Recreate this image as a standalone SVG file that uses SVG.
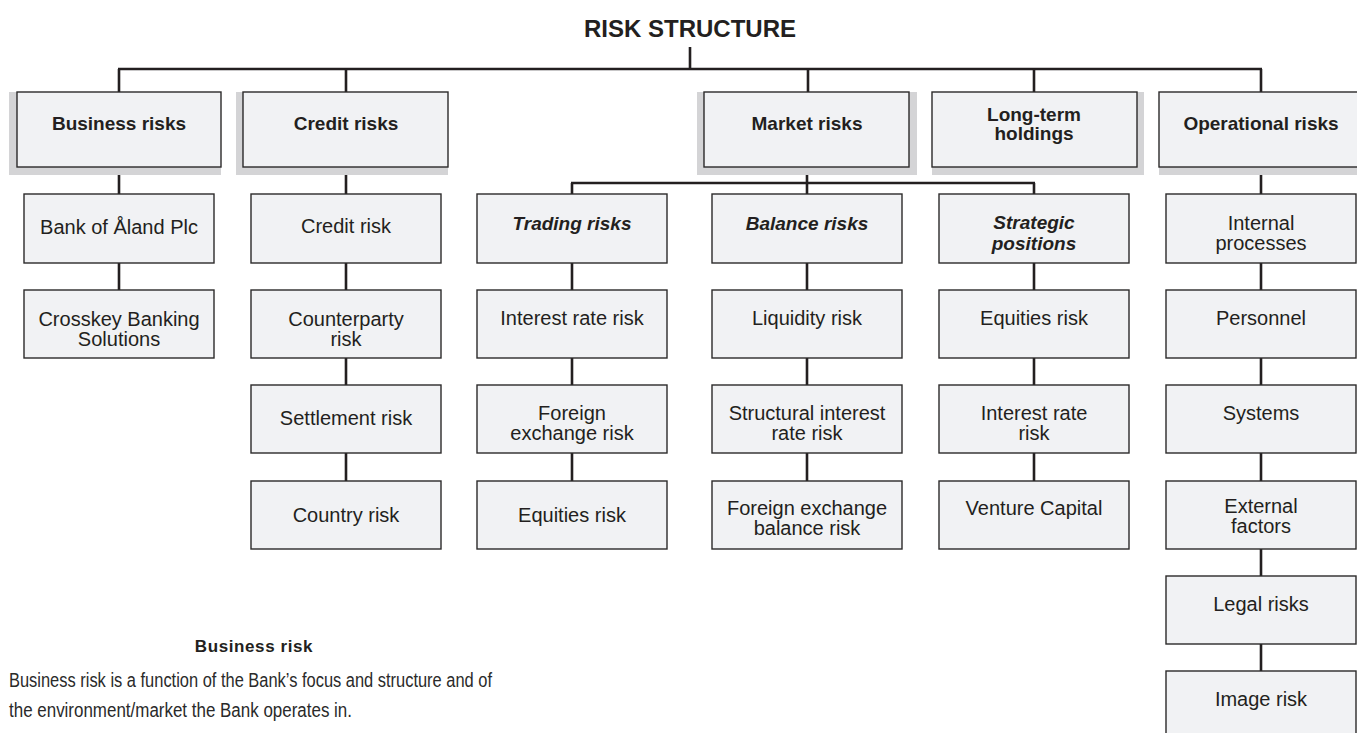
<svg xmlns="http://www.w3.org/2000/svg" width="1357" height="733" viewBox="0 0 1357 733">
  <style>
    .bg { fill: #ffffff; }
    .shadow { fill: #d4d4d6; }
    .box { fill: #f1f2f4; stroke: #2b2a2a; stroke-width: 1.4; }
    .wire { fill: none; stroke: #231f20; stroke-width: 2.6; stroke-linecap: butt; }
    text { font-family: "Liberation Sans", Arial, sans-serif; fill: #231f20; text-anchor: middle; }
    .title { font-size: 24px; font-weight: bold; }
    .head { font-size: 19px; font-weight: bold; }
    .sub { font-size: 19px; font-weight: bold; font-style: italic; }
    .lbl { font-size: 20px; }
    .note-h { font-size: 17px; font-weight: bold; letter-spacing: 0.6px; }
    .note { font-size: 20px; text-anchor: start; fill: #2a2a2a; }
  </style>

  <rect class="bg" x="0" y="0" width="1357" height="733"/>

  <text class="title" x="690" y="37">RISK STRUCTURE</text>

  <!-- connectors -->
  <g id="connectors">
    <path class="wire" d="M690 47 V69"/>
    <path class="wire" d="M118 69 H1262"/>
    <path class="wire" d="M119 69 V92 M346 69 V92 M808 69 V92 M1034 69 V92 M1261 69 V92"/>
    <!-- business column -->
    <path class="wire" d="M119 167 V194 M119 263 V290"/>
    <!-- credit column -->
    <path class="wire" d="M346 167 V194 M346 263 V290 M346 358 V385 M346 453 V481"/>
    <!-- market branch -->
    <path class="wire" d="M807 167 V183 M571 183 H1035 M572 183 V194 M807 183 V194 M1034 183 V194"/>
    <path class="wire" d="M572 263 V290 M572 358 V385 M572 453 V481"/>
    <path class="wire" d="M807 263 V290 M807 358 V385 M807 453 V481"/>
    <path class="wire" d="M1034 263 V290 M1034 358 V385 M1034 453 V481"/>
    <!-- operational column -->
    <path class="wire" d="M1261 167 V194 M1261 263 V290 M1261 358 V385 M1261 453 V481 M1261 549 V576 M1261 644 V671"/>
  </g>

  <!-- top level categories -->
  <g id="business-risks">
    <rect class="shadow" x="9" y="92" width="212" height="83"/>
    <rect class="box" x="17" y="92" width="204" height="75"/>
    <text class="head" x="119" y="130">Business risks</text>
  </g>
  <g id="credit-risks">
    <rect class="shadow" x="236" y="92" width="212" height="83"/>
    <rect class="box" x="243" y="92" width="205" height="75"/>
    <text class="head" x="346" y="130">Credit risks</text>
  </g>
  <g id="market-risks">
    <rect class="shadow" x="697" y="92" width="220" height="83"/>
    <rect class="box" x="704" y="92" width="205" height="75"/>
    <text class="head" x="807" y="130">Market risks</text>
  </g>
  <g id="long-term-holdings">
    <rect class="shadow" x="932" y="92" width="212" height="83"/>
    <rect class="box" x="932" y="92" width="205" height="75"/>
    <text class="head" x="1034" y="121">Long-term</text>
    <text class="head" x="1034" y="140">holdings</text>
  </g>
  <g id="operational-risks">
    <rect class="shadow" x="1159" y="92" width="210" height="83"/>
    <rect class="box" x="1159" y="92" width="205" height="75"/>
    <text class="head" x="1261" y="130">Operational risks</text>
  </g>

  <!-- business risk units -->
  <g id="bank-of-aland">
    <rect class="box" x="24" y="194" width="190" height="69"/>
    <text class="lbl" x="119" y="234">Bank of Åland Plc</text>
  </g>
  <g id="crosskey">
    <rect class="box" x="24" y="290" width="190" height="68"/>
    <text class="lbl" x="119" y="326">Crosskey Banking</text>
    <text class="lbl" x="119" y="346">Solutions</text>
  </g>

  <!-- credit risk types -->
  <g id="credit-risk">
    <rect class="box" x="251" y="194" width="190" height="69"/>
    <text class="lbl" x="346" y="233">Credit risk</text>
  </g>
  <g id="counterparty-risk">
    <rect class="box" x="251" y="290" width="190" height="68"/>
    <text class="lbl" x="346" y="326">Counterparty</text>
    <text class="lbl" x="346" y="346">risk</text>
  </g>
  <g id="settlement-risk">
    <rect class="box" x="251" y="385" width="190" height="68"/>
    <text class="lbl" x="346" y="425">Settlement risk</text>
  </g>
  <g id="country-risk">
    <rect class="box" x="251" y="481" width="190" height="68"/>
    <text class="lbl" x="346" y="522">Country risk</text>
  </g>

  <!-- trading risks -->
  <g id="trading-risks">
    <rect class="box" x="477" y="194" width="190" height="69"/>
    <text class="sub" x="572" y="230">Trading risks</text>
  </g>
  <g id="trading-interest-rate-risk">
    <rect class="box" x="477" y="290" width="190" height="68"/>
    <text class="lbl" x="572" y="325">Interest rate risk</text>
  </g>
  <g id="trading-fx-risk">
    <rect class="box" x="477" y="385" width="190" height="68"/>
    <text class="lbl" x="572" y="420">Foreign</text>
    <text class="lbl" x="572" y="440">exchange risk</text>
  </g>
  <g id="trading-equities-risk">
    <rect class="box" x="477" y="481" width="190" height="68"/>
    <text class="lbl" x="572" y="522">Equities risk</text>
  </g>

  <!-- balance risks -->
  <g id="balance-risks">
    <rect class="box" x="712" y="194" width="190" height="69"/>
    <text class="sub" x="807" y="230">Balance risks</text>
  </g>
  <g id="liquidity-risk">
    <rect class="box" x="712" y="290" width="190" height="68"/>
    <text class="lbl" x="807" y="325">Liquidity risk</text>
  </g>
  <g id="structural-interest-rate-risk">
    <rect class="box" x="712" y="385" width="190" height="68"/>
    <text class="lbl" x="807" y="420">Structural interest</text>
    <text class="lbl" x="807" y="440">rate risk</text>
  </g>
  <g id="fx-balance-risk">
    <rect class="box" x="712" y="481" width="190" height="68"/>
    <text class="lbl" x="807" y="515">Foreign exchange</text>
    <text class="lbl" x="807" y="535">balance risk</text>
  </g>

  <!-- strategic positions -->
  <g id="strategic-positions">
    <rect class="box" x="939" y="194" width="190" height="69"/>
    <text class="sub" x="1034" y="229">Strategic</text>
    <text class="sub" x="1034" y="250">positions</text>
  </g>
  <g id="strategic-equities-risk">
    <rect class="box" x="939" y="290" width="190" height="68"/>
    <text class="lbl" x="1034" y="325">Equities risk</text>
  </g>
  <g id="strategic-interest-rate-risk">
    <rect class="box" x="939" y="385" width="190" height="68"/>
    <text class="lbl" x="1034" y="420">Interest rate</text>
    <text class="lbl" x="1034" y="440">risk</text>
  </g>
  <g id="venture-capital">
    <rect class="box" x="939" y="481" width="190" height="68"/>
    <text class="lbl" x="1034" y="515">Venture Capital</text>
  </g>

  <!-- operational risk sources -->
  <g id="internal-processes">
    <rect class="box" x="1166" y="194" width="190" height="69"/>
    <text class="lbl" x="1261" y="230">Internal</text>
    <text class="lbl" x="1261" y="250">processes</text>
  </g>
  <g id="personnel">
    <rect class="box" x="1166" y="290" width="190" height="68"/>
    <text class="lbl" x="1261" y="325">Personnel</text>
  </g>
  <g id="systems">
    <rect class="box" x="1166" y="385" width="190" height="68"/>
    <text class="lbl" x="1261" y="420">Systems</text>
  </g>
  <g id="external-factors">
    <rect class="box" x="1166" y="481" width="190" height="68"/>
    <text class="lbl" x="1261" y="513">External</text>
    <text class="lbl" x="1261" y="533">factors</text>
  </g>
  <g id="legal-risks">
    <rect class="box" x="1166" y="576" width="190" height="68"/>
    <text class="lbl" x="1261" y="611">Legal risks</text>
  </g>
  <g id="image-risk">
    <rect class="box" x="1166" y="671" width="190" height="70"/>
    <text class="lbl" x="1261" y="706">Image risk</text>
  </g>

  <!-- explanatory note -->
  <g id="business-risk-note">
    <text class="note-h" x="254" y="652">Business risk</text>
    <text class="note" x="9" y="687" textLength="483" lengthAdjust="spacingAndGlyphs">Business risk is a function of the Bank’s focus and structure and of</text>
    <text class="note" x="9" y="717" textLength="343" lengthAdjust="spacingAndGlyphs">the environment/market the Bank operates in.</text>
  </g>
</svg>
